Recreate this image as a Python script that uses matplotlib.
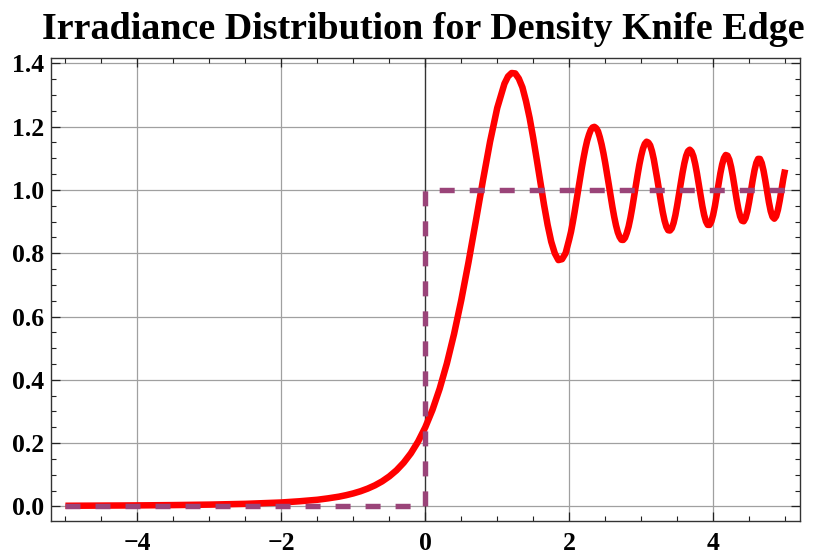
import matplotlib
matplotlib.use("Agg")
import matplotlib.pyplot as plt
from matplotlib.ticker import MultipleLocator, FixedLocator

# ---- data ----
title = "Irradiance Distribution for Density Knife Edge"

x_neg = [-5.0, -4.5, -4.0, -3.5, -3.0, -2.5, -2.0, -1.75, -1.5, -1.35, -1.2, -1.1,
         -1.0, -0.9, -0.8, -0.7, -0.6, -0.5, -0.4, -0.3, -0.2, -0.1]
irr_neg = [0.0020, 0.0025, 0.0032, 0.0042, 0.0057, 0.0081, 0.0124, 0.0162, 0.0210,
           0.0255, 0.0308, 0.0355, 0.0411, 0.0479, 0.0563, 0.0665, 0.0791, 0.0948,
           0.1141, 0.1382, 0.1679, 0.2048]

x_pos = [0.0, 0.1, 0.2, 0.3, 0.4, 0.5, 0.6, 0.7, 0.8, 0.9, 1.0, 1.1, 1.15, 1.2,
         1.25, 1.3, 1.35, 1.4, 1.45, 1.5, 1.55, 1.6, 1.65, 1.7, 1.75, 1.8, 1.85,
         1.9, 1.95,
         2.000, 2.025, 2.050, 2.075, 2.100, 2.125, 2.150, 2.175, 2.200, 2.225,
         2.250, 2.275, 2.300, 2.325, 2.350, 2.375, 2.400, 2.425, 2.450, 2.475,
         2.500, 2.525, 2.550, 2.575, 2.600, 2.625, 2.650, 2.675, 2.700, 2.725,
         2.750, 2.775, 2.800, 2.825, 2.850, 2.875, 2.900, 2.925, 2.950, 2.975,
         3.000, 3.025, 3.050, 3.075, 3.100, 3.125, 3.150, 3.175, 3.200, 3.225,
         3.250, 3.275, 3.300, 3.325, 3.350, 3.375, 3.400, 3.425, 3.450, 3.475,
         3.500, 3.525, 3.550, 3.575, 3.600, 3.625, 3.650, 3.675, 3.700, 3.725,
         3.750, 3.775, 3.800, 3.825, 3.850, 3.875, 3.900, 3.925, 3.950, 3.975,
         4.000, 4.025, 4.050, 4.075, 4.100, 4.125, 4.150, 4.175, 4.200, 4.225,
         4.250, 4.275, 4.300, 4.325, 4.350, 4.375, 4.400, 4.425, 4.450, 4.475,
         4.500, 4.525, 4.550, 4.575, 4.600, 4.625, 4.650, 4.675, 4.700, 4.725,
         4.750, 4.775, 4.800, 4.825, 4.850, 4.875, 4.900, 4.925, 4.950, 4.975,
         5.000]
irr_pos = [0.2500, 0.3051, 0.3721, 0.4517, 0.5450, 0.6518, 0.7708, 0.8983, 1.0284,
           1.1525, 1.2593, 1.3358, 1.3588, 1.3696, 1.3683, 1.3519, 1.3242, 1.2803,
           1.2275, 1.1638, 1.0947, 1.0231, 0.9532, 0.8897, 0.8366, 0.7996, 0.7784,
           0.7813, 0.8004,
           0.8439, 0.8679, 0.8979, 0.9306, 0.9660, 1.0005, 1.0360, 1.0702, 1.1023, 1.1314,
           1.1564, 1.1750, 1.1900, 1.1975, 1.1995, 1.1952, 1.1855, 1.1668, 1.1440, 1.1168,
           1.0858, 1.0518, 1.0171, 0.9813, 0.9467, 0.9154, 0.8881, 0.8662, 0.8516, 0.8426,
           0.8420, 0.8488, 0.8642, 0.8843, 0.9112, 0.9427, 0.9778, 1.0128, 1.0478, 1.0802,
           1.1080, 1.1306, 1.1456, 1.1525, 1.1497, 1.1408, 1.1225, 1.0972, 1.0656, 1.0322,
           0.9966, 0.9616, 0.9297, 0.9031, 0.8838, 0.8728, 0.8718, 0.8789, 0.8957, 0.9202,
           0.9514, 0.9851, 1.0207, 1.0548, 1.0843, 1.1078, 1.1224, 1.1273, 1.1213, 1.1068,
           1.0829, 1.0526, 1.0176, 0.9826, 0.9491, 0.9209, 0.9006, 0.8897, 0.8897, 0.9006,
           0.9216, 0.9498, 0.9834, 1.0187, 1.0525, 1.0806, 1.1007, 1.1105, 1.1082, 1.0954,
           1.0722, 1.0415, 1.0065, 0.9718, 0.9404, 0.9166, 0.9030, 0.9011, 0.9114, 0.9328,
           0.9626, 0.9967, 1.0316, 1.0626, 1.0858, 1.0982, 1.0980, 1.0851, 1.0611, 1.0298,
           0.9948, 0.9610, 0.9328, 0.9150, 0.9093, 0.9171, 0.9372, 0.9664, 1.0010, 1.0354,
           1.0647]

step_x = [-5.0, 0.0, 0.0, 5.0]
step_y = [0.0, 0.0, 1.0, 1.0]

x_ticks = [-4, -2, 0, 2, 4]
x_ticklabels = ["\u22124", "\u22122", "0", "2", "4"]
y_ticks = [0.0, 0.2, 0.4, 0.6, 0.8, 1.0, 1.2, 1.4]
y_ticklabels = ["0.0", "0.2", "0.4", "0.6", "0.8", "1.0", "1.2", "1.4"]

# ---- figure ----
plt.rcParams['font.family'] = ['Liberation Serif', 'DejaVu Serif']
fig = plt.figure(figsize=(8.14, 5.56), dpi=100)
ax = fig.add_axes([0.0627, 0.0630, 0.9195, 0.8321])

ax.set_xlim(-5.2, 5.2)
ax.set_ylim(-0.046, 1.416)

# grid
for xt in x_ticks:
    if xt != 0:
        ax.axvline(xt, color='#a0a0a0', lw=0.9, zorder=0)
for yt in y_ticks:
    ax.axhline(yt, color='#a0a0a0', lw=0.9, zorder=0)
ax.axvline(0, color='#333333', lw=1.0, zorder=1)

ax.plot(x_neg + x_pos, irr_neg + irr_pos, color='#ff0000', lw=4.7,
        solid_joinstyle='round', solid_capstyle='butt', zorder=3)
ax.plot(step_x, step_y, color='#9a4479', lw=3.9, dashes=(2.77, 2.77),
        dash_capstyle='butt', zorder=4)

ax.xaxis.set_major_locator(FixedLocator(x_ticks))
ax.set_xticklabels(x_ticklabels)
ax.xaxis.set_minor_locator(MultipleLocator(0.5))
ax.yaxis.set_major_locator(FixedLocator(y_ticks))
ax.set_yticklabels(y_ticklabels)
ax.yaxis.set_minor_locator(MultipleLocator(0.05))

ax.tick_params(which='both', direction='in', top=True, right=True, color='#222222')
ax.tick_params(which='major', length=6.5, width=0.9)
ax.tick_params(which='minor', length=3.5, width=0.8)
ax.tick_params(axis='x', which='major', pad=8)
ax.tick_params(axis='y', which='major', pad=5)
for lab in ax.get_xticklabels() + ax.get_yticklabels():
    lab.set_fontweight('bold')
    lab.set_fontsize(18.5)

for sp in ax.spines.values():
    sp.set_color('#333333')
    sp.set_linewidth(1.0)

fig.text(0.5205, 0.978, title, ha='center', va='top', fontsize=27.4,
         fontweight='bold')

fig.savefig("out.png", dpi=100)
